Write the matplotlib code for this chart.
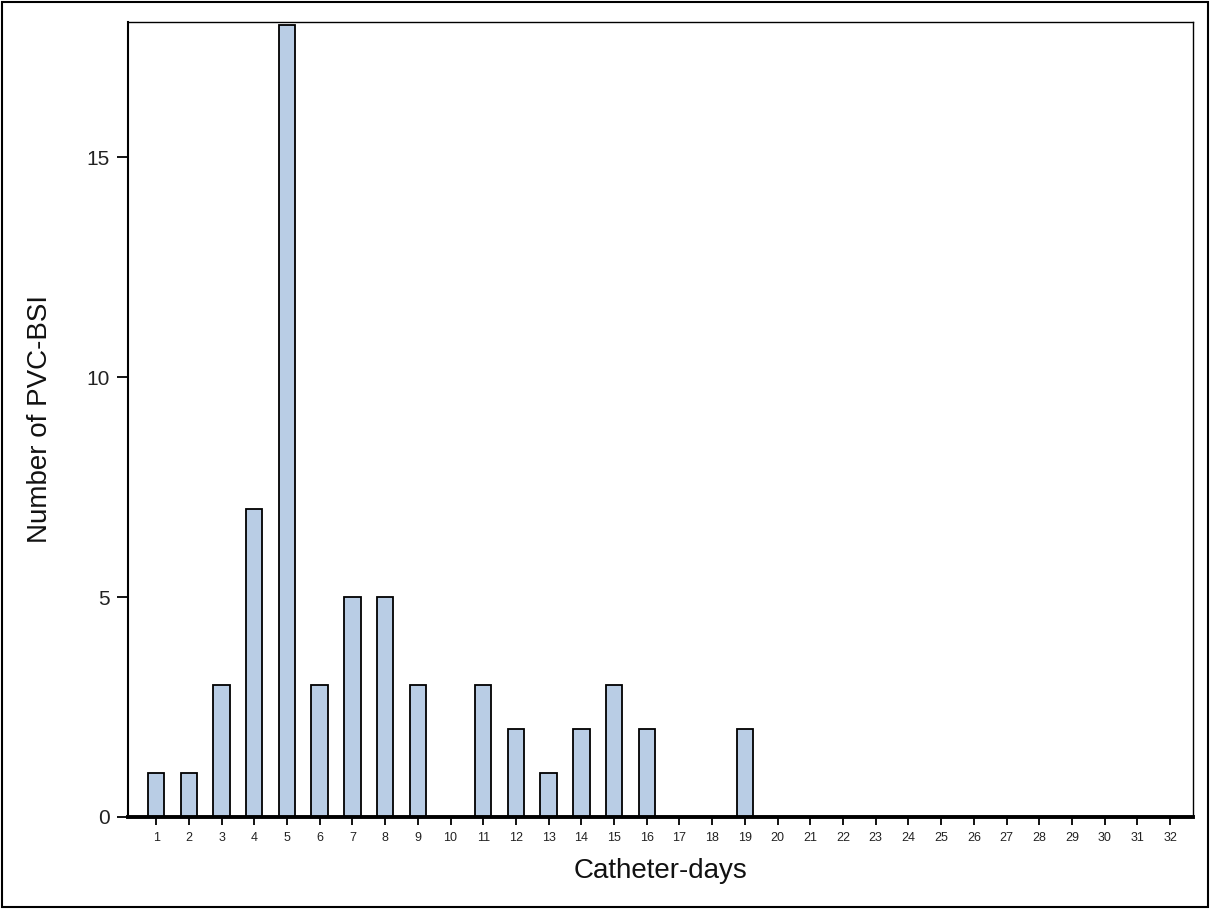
import matplotlib
matplotlib.use("Agg")
import matplotlib.pyplot as plt
from matplotlib.patches import Rectangle

plt.rcParams['font.family'] = ['Liberation Sans', 'DejaVu Sans']

days = list(range(1, 33))
counts = [1, 1, 3, 7, 18, 3, 5, 5, 3, 0, 3, 2, 1, 2, 3, 2, 0, 0, 2,
          0, 0, 0, 0, 0, 0, 0, 0, 0, 0, 0, 0, 0]
yticks = [0, 5, 10, 15]

fig = plt.figure(figsize=(12.1, 9.09), dpi=100)
ax = fig.add_axes([128/1210, 1 - 817/909, (1193-128)/1210, (817-22)/909])

ax.bar(days, counts, width=0.5, color='#B9CDE5', edgecolor='black', linewidth=1.3, zorder=2)

ax.set_xlim(0.14, 32.7)
ax.set_ylim(0, 18.07)
ax.set_xticks(days)
ax.set_xticklabels([str(d) for d in days], fontsize=9)
ax.set_yticks(yticks)
ax.set_yticklabels([str(v) for v in yticks], fontsize=15)
ax.tick_params(axis='x', direction='out', length=6, width=1.3, pad=5, colors='black')
ax.tick_params(axis='y', direction='out', length=8, width=1.3, pad=5, colors='black')
ax.tick_params(labelcolor='#222222')

for s in ['top', 'right']:
    ax.spines[s].set_linewidth(1.0)
ax.spines['left'].set_linewidth(1.5)
ax.spines['bottom'].set_linewidth(2.8)

ax.set_xlabel('Catheter-days', fontsize=20, labelpad=10, color='#111111')
ax.set_ylabel('Number of PVC-BSI', fontsize=20, labelpad=24, color='#111111')

fig.patches.append(Rectangle((0.002, 0.002), 0.996, 0.996, transform=fig.transFigure,
                             fill=False, edgecolor='black', linewidth=1.5))

fig.savefig('out.png', dpi=100)
